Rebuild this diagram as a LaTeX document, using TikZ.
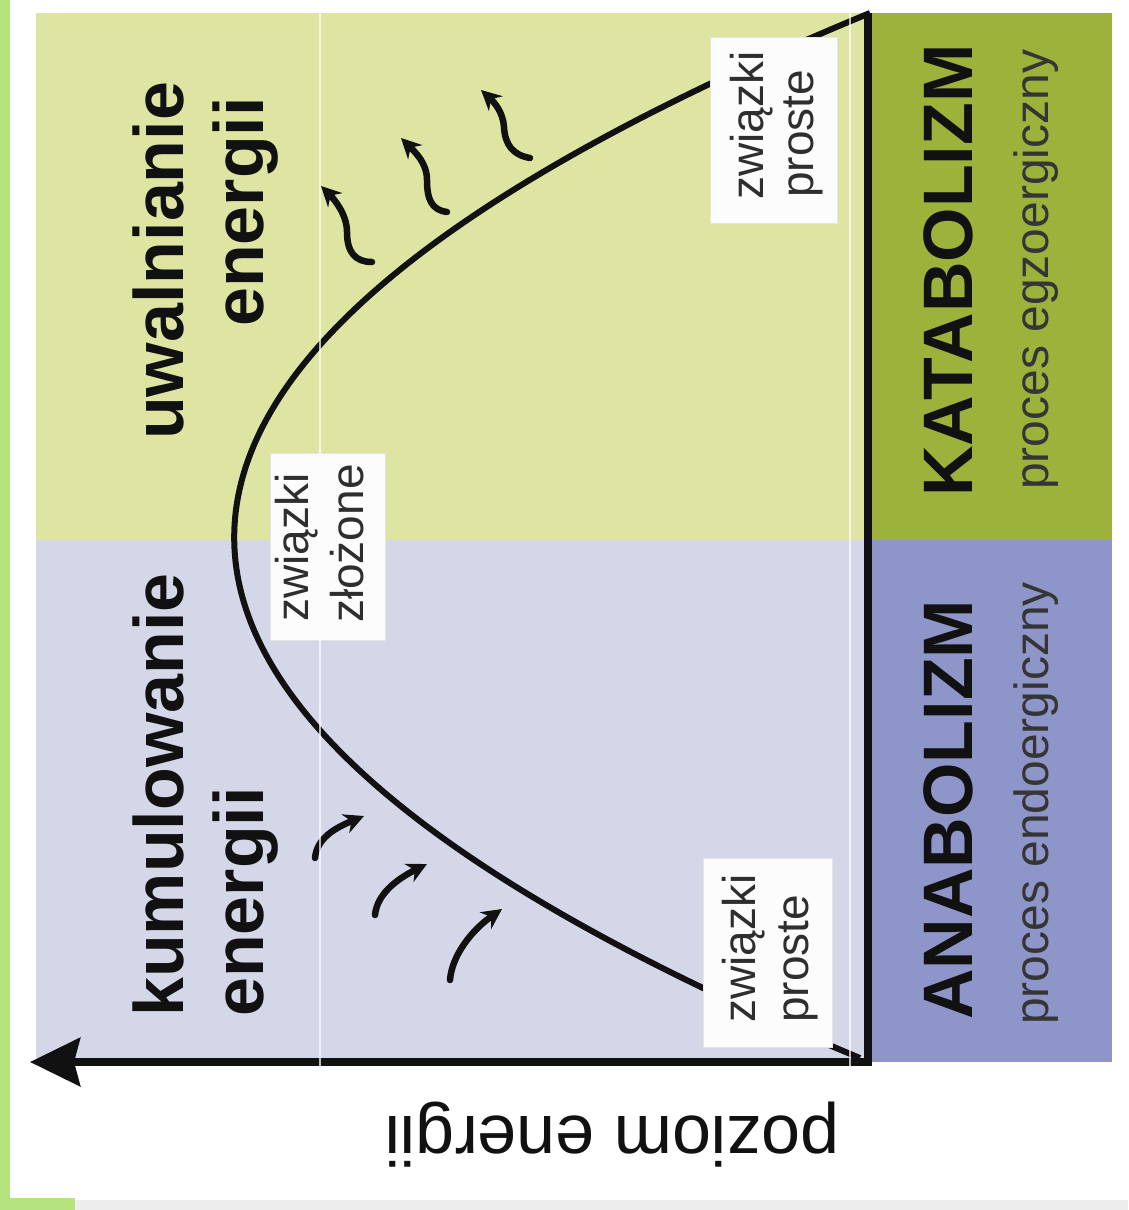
\documentclass[tikz,border=0pt]{standalone}
\usepackage{fontspec}
\setmainfont{Liberation Sans}
\usetikzlibrary{arrows.meta}
\definecolor{edgegreen}{HTML}{B5E37D}
\definecolor{barfill}{HTML}{EDEDED}
\definecolor{releasefill}{HTML}{DEE5A2}
\definecolor{storefill}{HTML}{D3D7E8}
\definecolor{katafill}{HTML}{9DB23A}
\definecolor{anafill}{HTML}{8E95C8}
\definecolor{ink}{HTML}{111111}
\definecolor{labelink}{HTML}{2E2E2E}
\tikzset{
  bigword/.style={font=\fontsize{70}{84}\selectfont\bfseries, text=ink, rotate=90, anchor=base west, inner sep=0pt},
  procword/.style={font=\fontsize{48}{56}\selectfont, text=ink!85, rotate=90, anchor=base west, inner sep=0pt},
  cmpword/.style={font=\fontsize{46}{55}\selectfont, text=labelink, rotate=90, anchor=base west, inner sep=0pt},
  cmpbox/.style={fill=white!98!gray, draw=white!90!black, line width=1pt, inner sep=0pt},
  energyflow/.style={line width=6.5pt, draw=ink, line cap=round, -{Stealth[length=20pt,width=20pt]}},
  axisline/.style={line width=8pt, draw=ink, -{Stealth[length=50pt,width=48pt,inset=6pt]}},
  energycurve/.style={line width=6pt, draw=ink},
  seam/.style={white, line width=1.5pt, opacity=0.7},
}
\begin{document}
\begin{tikzpicture}[x=1pt,y=-1pt]
\useasboundingbox (0,0) rectangle (1128,1210);
\fill[white] (0,0) rectangle (1128,1210);
% page edges
\fill[edgegreen] (0,0) rectangle (10,1210);
\fill[edgegreen] (0,1198) rectangle (75,1210);
\fill[barfill] (75,1200) rectangle (1128,1210);
% the two energy fields and the process strip
\fill[releasefill] (36,13) rectangle (868,540);
\fill[storefill] (36,540) rectangle (868,1062);
\fill[katafill] (868,13) rectangle (1112,540);
\fill[anafill] (868,540) rectangle (1112,1062);

% energy curve: simple -> complex -> simple
\coordinate (cTop) at (870,13);
\coordinate (cBot) at (860,1058);
\draw[energycurve] (cBot) .. controls (22.3,709.7) and (25.6,361.3) .. (cTop);

% axes
\coordinate (vTop) at (868,13);
\coordinate (corner) at (868,1062);
\coordinate (axTip) at (30,1062);
\draw[axisline] (vTop) -- (corner) -- (axTip);

% energy released (catabolism)
\coordinate (rA0) at (372,262); \coordinate (rA1) at (321,186);
\coordinate (rB0) at (447,212); \coordinate (rB1) at (401,138);
\coordinate (rC0) at (530,158); \coordinate (rC1) at (481,90);
\draw[energyflow] (rA0) .. controls (355,262) and (347,252) .. (347,232) .. controls (347,215) and (335,200) .. (rA1);
\draw[energyflow] (rB0) .. controls (432,210) and (427,200) .. (427,180) .. controls (427,163) and (415,152) .. (rB1);
\draw[energyflow] (rC0) .. controls (513,155) and (505,145) .. (504,127) .. controls (503,112) and (494,102) .. (rC1);

% energy stored (anabolism)
\coordinate (sD0) at (315,858); \coordinate (sD1) at (364,816);
\coordinate (sE0) at (375,915); \coordinate (sE1) at (427,864);
\coordinate (sF0) at (450,980); \coordinate (sF1) at (502,909);
\draw[energyflow] (sD0) .. controls (317,838) and (335,828) .. (sD1);
\draw[energyflow] (sE0) .. controls (377,895) and (395,880) .. (sE1);
\draw[energyflow] (sF0) .. controls (452,955) and (472,930) .. (sF1);

% compound labels
\node[cmpbox, minimum width=127pt, minimum height=186pt] (boxTop) at (773.5,130) {};
\node[cmpword] (boxTopA) at (763,200) {związki};
\node[cmpword] (boxTopB) at (813,198) {proste};
\node[cmpbox, minimum width=115pt, minimum height=187pt] (boxMid) at (327.5,546.5) {};
\node[cmpword] (boxMidA) at (308,622) {związki};
\node[cmpword] (boxMidB) at (363,623) {złożone};
\node[cmpbox, minimum width=129pt, minimum height=189pt] (boxBot) at (767.5,952.5) {};
\node[cmpword] (boxBotA) at (755,1023) {związki};
\node[cmpword] (boxBotB) at (808,1023) {proste};

% field titles
\node[bigword] (relA) at (183,440) {uwalnianie};
\node[bigword] (relB) at (263,327) {energii};
\node[bigword] (stoA) at (183,1017) {kumulowanie};
\node[bigword] (stoB) at (263,1017) {energii};

% process strip
\node[bigword] (kata) at (972,497) {KATABOLIZM};
\node[procword] (kataP) at (1048,490) {proces egzoergiczny};
\node[bigword] (ana) at (972,1020) {ANABOLIZM};
\node[procword] (anaP) at (1048,1025) {proces endoergiczny};

% axis label
\node[font=\fontsize{70}{84}\selectfont, text=ink, rotate=180, anchor=base west, inner sep=0pt] (axLabel) at (840,1116) {poziom energii};

% thin seams
\draw[seam] (320,0) -- (320,1200);
\draw[seam] (850,0) -- (850,1200);
\end{tikzpicture}
\end{document}
